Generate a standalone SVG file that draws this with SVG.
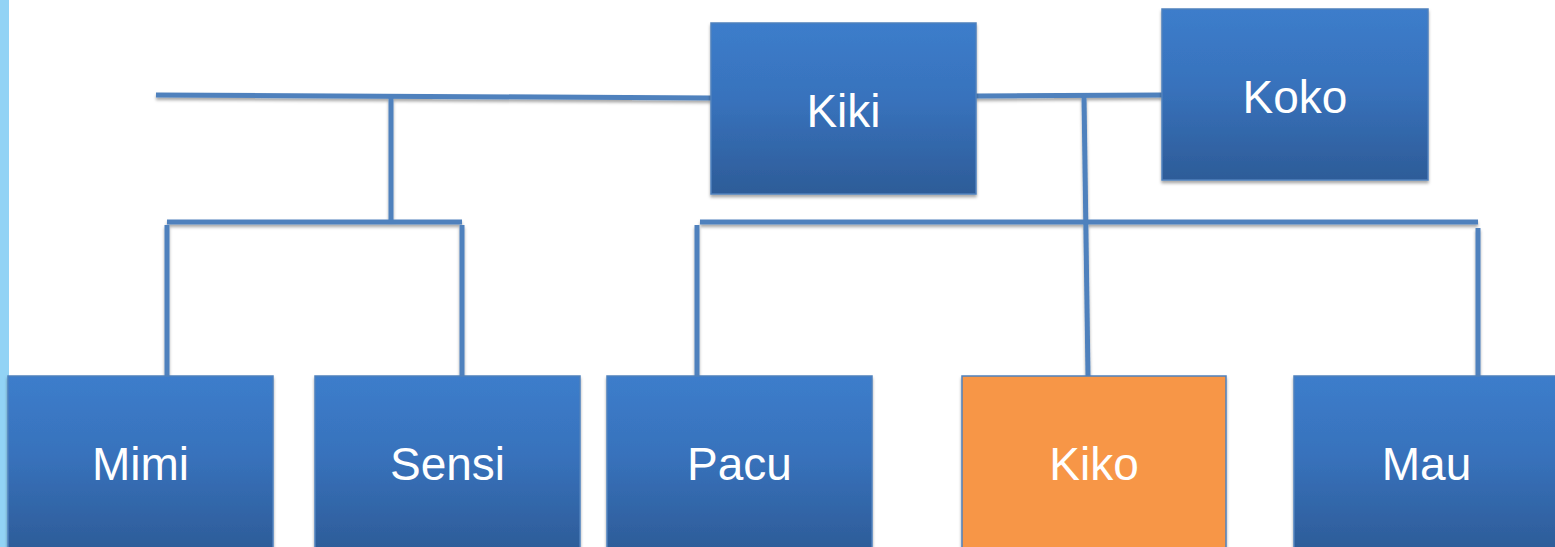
<svg xmlns="http://www.w3.org/2000/svg" width="1555" height="547" viewBox="0 0 1555 547">
<defs>
<linearGradient id="blueGrad" x1="0" y1="0" x2="0" y2="1">
<stop offset="0" stop-color="#3C7DCB"/>
<stop offset="0.45" stop-color="#3872BC"/>
<stop offset="1" stop-color="#2D5C98"/>
</linearGradient>
<filter id="shadow" filterUnits="userSpaceOnUse" x="0" y="0" width="1555" height="547">
<feDropShadow dx="0" dy="2.5" stdDeviation="1.8" flood-color="#000" flood-opacity="0.35"/>
</filter>
</defs>
<style>
.box{fill:url(#blueGrad);stroke:#4F81BD;stroke-width:1.5;filter:url(#shadow)}
.orange{fill:#F79646;stroke:#4F81BD;stroke-width:1.5;filter:url(#shadow)}
.lbl{font-family:"Liberation Sans",Arial,sans-serif;font-size:46px;fill:#FFFFFF;text-anchor:middle}
.conn{filter:url(#shadow)}
.conn line{stroke:#4F81BD;stroke-width:5}
</style>
<rect x="0" y="0" width="1555" height="547" fill="#FFFFFF"/>
<rect x="0" y="0" width="9" height="547" fill="#92D3F5"/>
<g id="connectors" class="conn">
<line x1="156" y1="95" x2="711" y2="98"/>
<line x1="391" y1="97" x2="391" y2="221"/>
<line x1="167" y1="222" x2="462" y2="222"/>
<line x1="167" y1="225" x2="167" y2="376"/>
<line x1="462" y1="225" x2="462" y2="376"/>
<line x1="976" y1="96" x2="1162" y2="95"/>
<line x1="1084" y1="96" x2="1088" y2="376"/>
<line x1="700" y1="222" x2="1478" y2="222"/>
<line x1="697" y1="225" x2="697" y2="376"/>
<line x1="1478" y1="228" x2="1478" y2="376"/>
</g>
<g id="kiki"><rect class="box" x="711" y="23" width="265" height="171"/><text class="lbl" x="843.5" y="127">Kiki</text></g>
<g id="koko"><rect class="box" x="1162" y="9" width="266" height="171"/><text class="lbl" x="1295" y="113">Koko</text></g>
<g id="mimi"><rect class="box" x="8" y="376" width="265" height="175"/><text class="lbl" x="140.5" y="480">Mimi</text></g>
<g id="sensi"><rect class="box" x="315" y="376" width="265" height="175"/><text class="lbl" x="447.5" y="480">Sensi</text></g>
<g id="pacu"><rect class="box" x="607" y="376" width="265" height="175"/><text class="lbl" x="739.5" y="480">Pacu</text></g>
<g id="kiko"><rect class="orange" x="962" y="376" width="264" height="175"/><text class="lbl" x="1094" y="480">Kiko</text></g>
<g id="mau"><rect class="box" x="1294" y="376" width="265" height="175"/><text class="lbl" x="1426.5" y="480">Mau</text></g>
</svg>
